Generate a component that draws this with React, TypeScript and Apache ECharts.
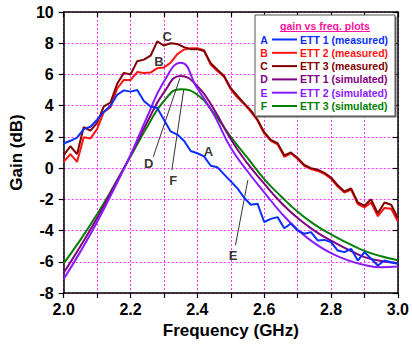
import React, { useEffect, useRef } from "react";
import * as echarts from "echarts";

// ---- simulated curves (smooth) ----
const simFreq = [2.0, 2.05, 2.1, 2.15, 2.2, 2.25, 2.3, 2.35, 2.4, 2.45, 2.5, 2.55, 2.6, 2.65, 2.7, 2.75, 2.8, 2.85, 2.9, 2.95, 3.0];
const ett1Sim = [-6.7, -5.0, -3.2, -1.2, 0.8, 2.95, 4.85, 5.9, 5.25, 3.75, 1.85, 0.3, -1.0, -2.2, -3.2, -4.0, -4.65, -5.2, -5.7, -5.95, -6.1];
const ett2Sim = [-7.1, -5.35, -3.45, -1.35, 0.85, 3.3, 5.55, 6.75, 5.1, 3.4, 1.3, -0.2, -1.55, -2.85, -3.95, -4.8, -5.45, -5.9, -6.2, -6.35, -6.3];
const ett3Sim = [-6.1, -4.6, -2.95, -1.15, 0.75, 2.65, 4.3, 5.05, 4.7, 3.5, 2.0, 0.65, -0.7, -1.8, -2.8, -3.6, -4.25, -4.8, -5.3, -5.65, -5.9];

// ---- measured curves ----
const measFreq = [
  2.0, 2.02, 2.04, 2.06, 2.08, 2.1, 2.12, 2.14, 2.16, 2.18,
  2.2, 2.22, 2.24, 2.26, 2.28, 2.3, 2.32, 2.34, 2.36, 2.38,
  2.4, 2.42, 2.44, 2.46, 2.48, 2.5, 2.52, 2.54, 2.56, 2.58,
  2.6, 2.62, 2.64, 2.66, 2.68, 2.7, 2.72, 2.74, 2.76, 2.78,
  2.8, 2.82, 2.84, 2.86, 2.88, 2.9, 2.92, 2.94, 2.96, 2.98, 3.0,
];
const ett1Meas = [
  1.58, 1.75, 1.95, 2.5, 2.65, 3.1, 3.6, 4.0, 4.7, 4.98,
  4.9, 5.0, 4.3, 3.95, 3.85, 3.1, 2.35, 2.15, 1.75, 1.1,
  0.95, 0.75, 0.15, 0.05, -0.4, -0.85, -1.3, -1.9, -2.35, -2.28,
  -3.45, -3.25, -3.14, -3.85, -3.55, -4.0, -4.2, -4.1, -4.63, -4.6,
  -4.74, -5.28, -5.38, -5.17, -5.92, -5.38, -5.81, -6.24, -5.92, -6.03, -6.13,
];
const ett2Meas = [
  0.4, 0.9, 0.4, 1.98, 1.9, 2.5, 3.6, 3.9, 5.1, 5.65,
  5.64, 6.15, 6.1, 6.12, 6.4, 6.45, 6.75, 7.3, 7.6, 7.68,
  7.68, 7.55, 6.62, 6.22, 5.85, 5.05, 4.52, 4.1, 3.62, 3.05,
  2.22, 1.74, 1.52, 0.72, 0.95, 0.58, 0.14, -0.06, -0.18, -0.36,
  -0.68, -1.18, -1.56, -1.38, -2.3, -2.52, -2.2, -3.08, -2.55, -2.6, -3.42,
];
const ett3Meas = [
  0.83, 1.4, 0.9, 2.63, 2.4, 2.9, 3.95, 4.2, 5.4, 6.1,
  6.0, 6.85, 6.95, 7.2, 8.12, 7.85, 8.0, 7.95, 7.75, 7.62,
  7.62, 7.5, 6.72, 6.3, 5.9, 5.12, 4.62, 4.15, 3.7, 3.1,
  2.3, 1.8, 1.6, 0.82, 1.0, 0.65, 0.2, 0.0, -0.1, -0.3,
  -0.6, -1.1, -1.5, -1.3, -2.2, -2.4, -2.0, -2.9, -2.2, -2.35, -3.2,
];

// ---- axes ----
const xMin = 2.0;
const xMax = 3.0;
const xStep = 0.1;
const yMin = -8;
const yMax = 10;
const yStep = 2;

// ---- legend ----
const legendTitle = "gain vs freq. plots";
const legendLetters = ["A", "B", "C", "D", "E", "F"];
const legendNames = [
  "ETT 1 (measured)",
  "ETT 2 (measured)",
  "ETT 3 (measured)",
  "ETT 1 (simulated)",
  "ETT 2 (simulated)",
  "ETT 3 (simulated)",
];
const colors = ["#0a2eff", "#ff1414", "#800000", "#800080", "#8a1aff", "#008000"];

// ---- annotation labels (data coordinates) ----
const annLetters = ["A", "B", "C", "D", "E", "F"];
const annX = [2.433, 2.285, 2.31, 2.254, 2.507, 2.328];
const annY = [1.05, 6.85, 8.4, 0.3, -5.6, -0.8];
// arrows: from curve to label
const arrowFrom = [[2.3476, 5.75], [2.359, 5.0], [2.551, -0.77]];
const arrowTo = [[2.268, 0.72], [2.3236, -0.13], [2.514, -4.94]];

const FONT = "Liberation Sans, Arial, sans-serif";

function pairs(xs: number[], ys: number[]) {
  return xs.map((x, i) => [x, ys[i]]);
}

export default function App() {
  const ref = useRef<HTMLDivElement>(null);
  useEffect(() => {
    document.body.style.margin = "0";
    const chart = echarts.init(ref.current!, null, { renderer: "svg" });

    const axisLine = { show: true, onZero: false, lineStyle: { color: "#000", width: 1.5 } };
    const tickStyle = { color: "#000", width: 1.2 };
    const labelStyle = { color: "#000", fontSize: 16, fontWeight: "bold" as const, fontFamily: FONT };
    const nameStyle = { color: "#000", fontSize: 17, fontWeight: "bold" as const, fontFamily: FONT };
    const split = { show: true, lineStyle: { color: "#ff33ff", type: [2, 2] as any, width: 1 } };

    const lineSeries = (name: string, data: number[][], color: string, smooth: boolean, z: number) => ({
      name,
      type: "line",
      data,
      smooth,
      symbol: "none",
      z,
      lineStyle: { color, width: 2 },
      itemStyle: { color },
      emphasis: { disabled: true },
    });

    const legendX = 255;
    const legendY = 15;
    const rowY0 = 39.5;
    const rowH = 13.3;
    const legendGraphics: any[] = [
      { type: "rect", shape: { x: legendX + 1.5, y: legendY + 1.5, width: 140, height: 101 }, style: { fill: "#666" }, z: 100 },
      { type: "rect", shape: { x: legendX, y: legendY, width: 140, height: 101 }, style: { fill: "#fff", stroke: "#555", lineWidth: 1 }, z: 101 },
      {
        type: "text", x: 325, y: 26, z: 102,
        style: { text: legendTitle, fill: "#ff0fa0", font: `bold 10.5px ${FONT}`, textAlign: "center", textVerticalAlign: "middle" },
      },
      { type: "line", shape: { x1: 280, y1: 31.5, x2: 370, y2: 31.5 }, style: { stroke: "#ff0fa0", lineWidth: 1 }, z: 102 },
    ];
    legendLetters.forEach((l, i) => {
      const y = rowY0 + i * rowH;
      legendGraphics.push(
        { type: "text", x: 264, y, z: 102, style: { text: l, fill: colors[i], font: `bold 10.5px ${FONT}`, textAlign: "center", textVerticalAlign: "middle" } },
        { type: "line", shape: { x1: 272, y1: y, x2: 297, y2: y }, style: { stroke: colors[i], lineWidth: 2 }, z: 102 },
        { type: "text", x: 300, y, z: 102, style: { text: legendNames[i], fill: colors[i], font: `bold 10.5px ${FONT}`, textAlign: "left", textVerticalAlign: "middle" } }
      );
    });

    const option: any = {
      animation: false,
      backgroundColor: "#fff",
      grid: { left: 53, top: 12, width: 348, height: 281, containLabel: false },
      xAxis: [
        {
          type: "value", min: xMin, max: xMax, interval: xStep, position: "bottom",
          axisLine, axisTick: { show: true, inside: false, length: 5, lineStyle: tickStyle },
          axisLabel: {
            ...labelStyle, margin: 8,
            formatter: (v: number) => (Math.round(v * 10) % 2 === 0 ? v.toFixed(1) : ""),
          },
          splitLine: split,
          name: "Frequency (GHz)", nameLocation: "middle", nameGap: 26, nameTextStyle: nameStyle,
        },
        {
          type: "value", min: xMin, max: xMax, interval: xStep, position: "top",
          axisLine, axisTick: { show: true, inside: true, length: 5, lineStyle: tickStyle },
          axisLabel: { show: false }, splitLine: { show: false },
        },
      ],
      yAxis: [
        {
          type: "value", min: yMin, max: yMax, interval: yStep, position: "left",
          axisLine, axisTick: { show: true, inside: false, length: 5, lineStyle: tickStyle },
          axisLabel: { ...labelStyle, margin: 10 },
          splitLine: split,
          name: "Gain (dB)", nameLocation: "middle", nameGap: 30, nameTextStyle: nameStyle,
        },
        {
          type: "value", min: yMin, max: yMax, interval: yStep, position: "right",
          axisLine, axisTick: { show: true, inside: true, length: 5, lineStyle: tickStyle },
          axisLabel: { show: false }, splitLine: { show: false },
        },
      ],
      series: [
        {
          ...lineSeries(legendNames[5], pairs(simFreq, ett3Sim), colors[5], true, 2),
          markLine: {
            silent: true,
            symbol: ["none", "arrow"],
            symbolSize: [0, 7],
            label: { show: false },
            lineStyle: { color: "#333", width: 1, type: "solid" },
            emphasis: { disabled: true },
            data: arrowFrom.map((f, i) => [{ coord: f }, { coord: arrowTo[i] }]),
          },
        },
        lineSeries(legendNames[3], pairs(simFreq, ett1Sim), colors[3], true, 3),
        lineSeries(legendNames[4], pairs(simFreq, ett2Sim), colors[4], true, 4),
        lineSeries(legendNames[1], pairs(measFreq, ett2Meas), colors[1], false, 5),
        lineSeries(legendNames[2], pairs(measFreq, ett3Meas), colors[2], false, 6),
        lineSeries(legendNames[0], pairs(measFreq, ett1Meas), colors[0], false, 7),
        {
          name: "labels",
          type: "scatter",
          symbolSize: 0,
          z: 10,
          silent: true,
          data: annLetters.map((l, i) => ({ value: [annX[i], annY[i]], name: l })),
          label: {
            show: true, position: "inside", formatter: (p: any) => p.name,
            color: "#000", fontSize: 13, fontWeight: "bold", fontFamily: FONT,
          },
          emphasis: { disabled: true },
        },
      ],
      graphic: legendGraphics,
    };
    chart.setOption(option);
    return () => chart.dispose();
  }, []);
  return <div ref={ref} style={{ position: "fixed", left: 0, top: 0, width: 412, height: 344 }} />;
}
